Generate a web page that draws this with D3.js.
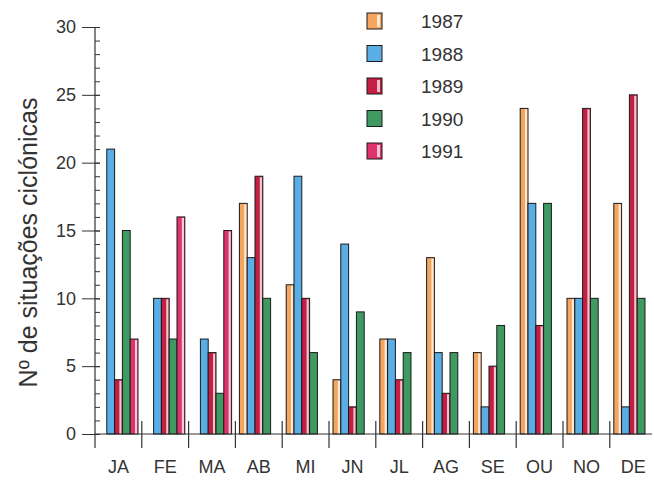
<!DOCTYPE html>
<html>
<head>
<meta charset="utf-8">
<script src="https://cdn.jsdelivr.net/npm/d3@7"></script>
<style>
  body { margin: 0; background: #fff; }
  svg { display: block; font-family: "Liberation Sans", Arial, sans-serif; }
</style>
</head>
<body>
<div id="chart"></div>
<script>
// months (Portuguese abbreviations) and years
const months = ['JA', 'FE', 'MA', 'AB', 'MI', 'JN', 'JL', 'AG', 'SE', 'OU', 'NO', 'DE'];
const years = ['1987', '1988', '1989', '1990', '1991'];

// number of cyclonic situations per month, one array per year
const v1987 = [0, 0, 0, 17, 11, 4, 7, 13, 6, 24, 10, 17];
const v1988 = [21, 10, 7, 13, 19, 14, 7, 6, 2, 17, 10, 2];
const v1989 = [4, 10, 6, 19, 10, 2, 4, 3, 5, 8, 24, 25];
const v1990 = [15, 7, 3, 10, 6, 9, 6, 6, 8, 17, 10, 10];
const v1991 = [7, 16, 15, 0, 0, 0, 0, 0, 0, 0, 0, 0];

const yTicks = [0, 5, 10, 15, 20, 25, 30];
const yTitle = 'Nº de situações ciclónicas';

const seriesValues = [v1987, v1988, v1989, v1990, v1991];
const colors = ['#f4a55e', '#5aaee6', '#c41e45', '#3f9a62', '#e0326e'];
const highlight = [true, false, true, false, true];

const width = 654, height = 480;
const x0 = 95, groupW = 46.8, baseY = 434;

const svg = d3.select('#chart').append('svg')
  .attr('width', width)
  .attr('height', height);

const x = d3.scaleBand()
  .domain(months)
  .range([x0, x0 + groupW * months.length])
  .padding(0);

const xInner = d3.scaleBand()
  .domain(years)
  .range([4, 43])
  .padding(0);

const y = d3.scaleLinear()
  .domain([0, 30])
  .range([baseY, 27]);

// minor ticks every unit on the right of the axis
svg.append('g')
  .attr('transform', `translate(${x0},0)`)
  .call(d3.axisRight(y).tickValues(d3.range(0, 31)).tickSize(5).tickFormat(''))
  .call(g => g.select('.domain').remove())
  .call(g => g.selectAll('line').attr('stroke', '#333'));

// major ticks and labels
svg.append('g')
  .attr('transform', `translate(${x0},0)`)
  .call(d3.axisLeft(y).tickValues(yTicks).tickSize(13).tickPadding(6))
  .call(g => g.select('.domain').remove())
  .call(g => g.selectAll('.tick line').attr('x2', 5).attr('x1', -13).attr('stroke', '#333'))
  .call(g => g.selectAll('text')
    .attr('fill', '#333')
    .style('font-size', '18px')
    .style('font-family', '"Liberation Sans", Arial, sans-serif'));

// y axis line, running a little below the baseline
svg.append('line')
  .attr('x1', x0).attr('x2', x0)
  .attr('y1', y(30)).attr('y2', baseY + 14)
  .attr('stroke', '#333').attr('stroke-width', 1.2);

// bars
const groups = svg.append('g').selectAll('g')
  .data(months)
  .join('g')
  .attr('transform', m => `translate(${x(m)},0)`);

years.forEach((yr, si) => {
  const bw = xInner.bandwidth();
  const bars = groups.filter((m, i) => seriesValues[si][i] > 0);
  bars.append('rect')
    .attr('x', xInner(yr))
    .attr('y', (m) => y(seriesValues[si][months.indexOf(m)]))
    .attr('width', bw)
    .attr('height', (m) => baseY - y(seriesValues[si][months.indexOf(m)]))
    .attr('fill', colors[si])
    .attr('stroke', '#1a1a1a')
    .attr('stroke-width', 1);
  if (highlight[si]) {
    bars.append('rect')
      .attr('x', xInner(yr) + bw - 3)
      .attr('y', (m) => y(seriesValues[si][months.indexOf(m)]) + 1)
      .attr('width', 2.2)
      .attr('height', (m) => Math.max(0, baseY - y(seriesValues[si][months.indexOf(m)]) - 1))
      .attr('fill', '#fff')
      .attr('opacity', 0.75);
  }
});

// x baseline
svg.append('line')
  .attr('x1', x0).attr('x2', 652)
  .attr('y1', baseY).attr('y2', baseY)
  .attr('stroke', '#333').attr('stroke-width', 1.2);

// group separators
svg.append('g').selectAll('line')
  .data(months.slice(1))
  .join('line')
  .attr('x1', m => x(m)).attr('x2', m => x(m))
  .attr('y1', baseY - 13).attr('y2', baseY + 14)
  .attr('stroke', '#333').attr('stroke-width', 1.2);

// month labels
svg.append('g').selectAll('text')
  .data(months)
  .join('text')
  .attr('x', m => x(m) + x.bandwidth() / 2)
  .attr('y', 473)
  .attr('text-anchor', 'middle')
  .attr('fill', '#333')
  .style('font-size', '18px')
  .text(m => m);

// y title
svg.append('text')
  .attr('transform', `translate(37,${(y(30) + baseY) / 2 + 12}) rotate(-90)`)
  .attr('text-anchor', 'middle')
  .attr('fill', '#333')
  .style('font-size', '25px')
  .text(yTitle);

// legend
const legend = svg.append('g').selectAll('g')
  .data(years)
  .join('g')
  .attr('transform', (d, i) => `translate(367,${13 + i * 32.5})`);

legend.append('rect')
  .attr('width', 15).attr('height', 16)
  .attr('fill', (d, i) => colors[i])
  .attr('stroke', '#1a1a1a').attr('stroke-width', 1);

legend.filter((d, i) => highlight[i]).append('rect')
  .attr('x', 10).attr('y', 2).attr('width', 3).attr('height', 12)
  .attr('fill', '#fff').attr('opacity', 0.7);

legend.append('text')
  .attr('x', 54).attr('y', 15)
  .attr('fill', '#333')
  .style('font-size', '19px')
  .text(d => d);
</script>
</body>
</html>
